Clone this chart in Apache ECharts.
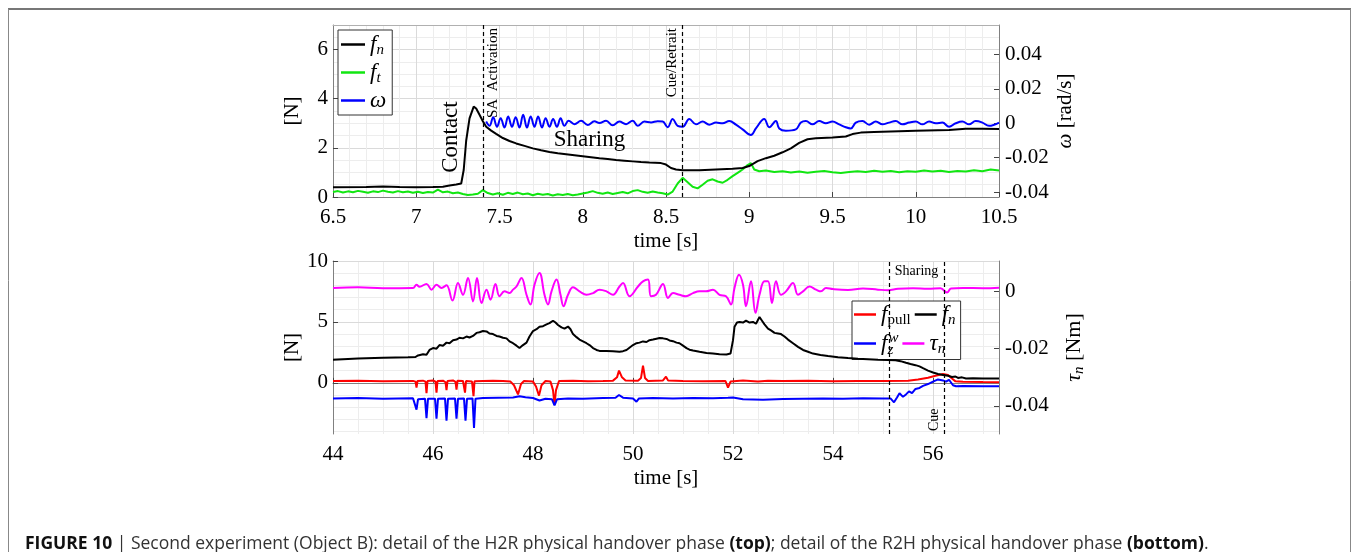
<!DOCTYPE html>
<html>
<head>
<meta charset="utf-8">
<script src="https://cdn.jsdelivr.net/npm/echarts@6.0.0/dist/echarts.min.js"></script>
<style>
html, body { margin: 0; padding: 0; background: #fff; }
#chart { width: 1356px; height: 552px; }
</style>
</head>
<body>
<div id="chart"></div>
<script>
const SERIF = 'Liberation Serif, Times New Roman, serif';
const SANS = 'Open Sans, Liberation Sans, Arial, sans-serif';

// ---- top panel: H2R handover (time [s]) ----
const h2rTimeRange = [6.5, 10.5];
const h2rForceRange = [0, 7];
const h2rForceTicks = [0, 2, 4, 6];
const h2rForceMinor = [0.5, 1, 1.5, 2.5, 3, 3.5, 4.5, 5, 5.5, 6.5];
const h2rOmegaRange = [-0.042857, 0.057143];
const h2rOmegaTicks = [-0.04, -0.02, 0, 0.02, 0.04];

const h2rFn = [
  [6.5,0.40],[6.7,0.41],[6.8,0.43],[6.9,0.41],[7.0,0.40],[7.1,0.41],[7.16,0.42],[7.2,0.47],
  [7.24,0.51],[7.27,0.55],[7.285,1.1],[7.3,2.3],[7.32,3.2],[7.345,3.68],[7.36,3.60],[7.38,3.35],
  [7.4,3.08],[7.42,2.86],[7.45,2.70],[7.48,2.57],[7.52,2.40],[7.56,2.28],[7.6,2.18],[7.65,2.08],
  [7.7,1.98],[7.75,1.90],[7.8,1.83],[7.85,1.78],[7.9,1.74],[7.95,1.70],[8.0,1.66],[8.05,1.62],
  [8.1,1.58],[8.15,1.55],[8.2,1.51],[8.25,1.48],[8.3,1.45],[8.35,1.42],[8.4,1.40],[8.47,1.38],
  [8.5,1.32],[8.53,1.18],[8.56,1.12],[8.6,1.09],[8.7,1.09],[8.8,1.12],[8.9,1.15],[8.96,1.18],
  [9.0,1.26],[9.05,1.46],[9.1,1.58],[9.15,1.68],[9.2,1.82],[9.25,1.98],[9.3,2.20],[9.35,2.35],
  [9.4,2.39],[9.5,2.42],[9.58,2.46],[9.62,2.56],[9.67,2.62],[9.75,2.65],[9.9,2.68],[10.0,2.70],
  [10.2,2.73],[10.3,2.78],[10.4,2.78],[10.5,2.77]
];
const h2rFt = [
  [6.5,0.20],[6.53,0.24],[6.56,0.18],[6.59,0.23],[6.62,0.19],[6.65,0.25],[6.68,0.21],[6.71,0.17],
  [6.74,0.23],[6.77,0.20],[6.8,0.26],[6.83,0.21],[6.86,0.18],[6.89,0.24],[6.92,0.19],[6.95,0.22],
  [6.98,0.17],[7.01,0.21],[7.04,0.16],[7.07,0.20],[7.1,0.18],[7.13,0.30],[7.16,0.19],[7.19,0.22],
  [7.22,0.15],[7.25,0.18],[7.28,0.12],[7.31,0.08],[7.34,0.10],[7.37,0.13],[7.4,0.28],[7.43,0.16],
  [7.46,0.10],[7.49,0.15],[7.52,0.09],[7.55,0.17],[7.58,0.12],[7.61,0.18],[7.64,0.11],[7.67,0.14],
  [7.7,0.07],[7.73,0.13],[7.76,0.09],[7.79,0.12],[7.82,0.06],[7.85,0.11],[7.88,0.08],[7.91,0.12],
  [7.94,0.07],[7.97,0.10],[8.0,0.14],[8.03,0.18],[8.06,0.24],[8.09,0.17],[8.12,0.13],[8.15,0.18],
  [8.18,0.12],[8.21,0.16],[8.24,0.20],[8.27,0.15],[8.3,0.24],[8.33,0.28],[8.36,0.21],[8.39,0.17],
  [8.42,0.22],[8.45,0.18],[8.48,0.15],[8.51,0.10],[8.54,0.22],[8.57,0.55],[8.6,0.78],[8.63,0.60],
  [8.66,0.42],[8.69,0.35],[8.72,0.50],[8.75,0.66],[8.78,0.72],[8.81,0.63],[8.84,0.58],[8.87,0.70],
  [8.9,0.85],[8.93,0.98],[8.96,1.12],[8.99,1.30],[9.01,1.38],[9.03,1.12],[9.06,1.05],[9.1,1.08],
  [9.15,1.02],[9.2,1.05],[9.25,1.00],[9.3,1.04],[9.35,0.99],[9.4,1.03],[9.45,1.06],[9.5,1.01],
  [9.55,0.98],[9.6,1.02],[9.65,1.05],[9.7,1.02],[9.75,1.07],[9.8,1.03],[9.85,1.06],[9.9,1.01],
  [9.95,1.05],[10.0,1.03],[10.05,1.08],[10.1,1.04],[10.15,1.07],[10.2,1.02],[10.25,1.06],[10.3,1.04],
  [10.35,1.09],[10.4,1.05],[10.45,1.12],[10.5,1.08]
];
const h2rOmega = [
  [7.42,0.0010],[7.44,-0.0015],[7.462,0.0035],[7.485,-0.0020],[7.507,0.0030],[7.53,-0.0025],
  [7.552,0.0040],[7.575,-0.0020],[7.597,0.0035],[7.62,-0.0025],[7.642,0.0050],[7.665,-0.0025],
  [7.687,0.0040],[7.71,-0.0020],[7.732,0.0040],[7.755,-0.0025],[7.777,0.0030],[7.8,-0.0020],
  [7.822,0.0025],[7.845,-0.0020],[7.867,0.0030],[7.89,-0.0015],[7.915,0.0015],[7.95,-0.0005],
  [7.99,0.0015],[8.03,-0.0010],[8.07,0.0012],[8.1,0.0002],[8.14,0.0015],[8.18,-0.0012],
  [8.22,0.0010],[8.26,-0.0005],[8.3,0.0015],[8.33,-0.0015],[8.37,0.0010],[8.41,0.0005],
  [8.45,0.0012],[8.48,0.0010],[8.51,-0.0023],[8.54,0.0025],[8.57,-0.0015],[8.6,-0.0020],
  [8.64,0.0025],[8.68,-0.0006],[8.72,0.0010],[8.76,-0.0008],[8.8,0.0004],[8.84,0.0],
  [8.88,0.0013],[8.92,-0.0008],[8.96,-0.0035],[9.01,-0.0068],[9.04,-0.0030],[9.09,0.0025],
  [9.12,-0.0023],[9.16,0.0013],[9.18,-0.0030],[9.22,-0.0043],[9.28,-0.0035],[9.31,0.0004],
  [9.34,0.0013],[9.38,-0.0006],[9.42,0.0013],[9.46,0.0],[9.5,0.0010],[9.54,-0.0006],
  [9.58,-0.0023],[9.61,-0.0030],[9.64,0.0004],[9.68,0.0013],[9.72,-0.0008],[9.76,0.0010],
  [9.8,-0.0006],[9.84,0.0004],[9.88,0.0013],[9.92,-0.0006],[9.96,0.0004],[10.0,0.0010],
  [10.04,-0.0006],[10.08,0.0010],[10.12,0.0],[10.16,0.0004],[10.2,-0.0020],[10.24,0.0],
  [10.28,0.0010],[10.32,-0.0006],[10.36,0.0013],[10.4,0.0004],[10.44,-0.0015],[10.5,0.0004]
];
const h2rEvents = [
  { t: 7.4, text: 'SA  Activation', side: 'right' },
  { t: 8.6, text: 'Cue/Retrait', side: 'left' }
];
const h2rNotes = [
  { t: 7.21, v: 2.44, text: 'Contact', rot: 90 },
  { t: 8.04, v: 2.31, text: 'Sharing', rot: 0 }
];

// ---- bottom panel: R2H handover (time [s]) ----
const r2hTimeRange = [44, 57.32];
const r2hTimeTicks = [44, 46, 48, 50, 52, 54, 56];
const r2hTimeMinor = [44.5,45,45.5,46.5,47,47.5,48.5,49,49.5,50.5,51,51.5,52.5,53,53.5,54.5,55,55.5,56.5,57];
const r2hForceRange = [-4.2, 10];
const r2hForceTicks = [0, 5, 10];
const r2hForceMinor = [-4, -3, -2, -1, 1, 2, 3, 4, 6, 7, 8, 9];
const r2hTauRange = [-0.0498, 0.0106];
const r2hTauTicks = [-0.04, -0.02, 0];

const r2hFpull = [
  [44.0,0.15],[44.5,0.18],[45.0,0.14],[45.6,0.16],[45.65,0.10],[45.67,-0.40],[45.69,0.15],[45.8,0.18],
  [45.85,0.10],[45.87,-0.85],[45.89,0.15],[46.0,0.20],[46.05,0.10],[46.07,-0.80],[46.09,0.15],[46.2,0.18],
  [46.25,0.05],[46.27,-0.60],[46.29,0.15],[46.4,0.20],[46.45,0.08],[46.47,-0.55],[46.49,0.18],[46.6,0.15],
  [46.62,0.05],[46.64,-0.80],[46.66,0.15],[46.78,0.10],[46.81,-1.10],[46.83,0.12],[47.0,0.15],[47.2,0.18],
  [47.4,0.15],[47.55,0.10],[47.62,-0.20],[47.7,-0.95],[47.76,-0.10],[47.82,0.15],[48.0,0.10],[48.06,-0.30],
  [48.12,-1.05],[48.17,-0.20],[48.25,0.15],[48.35,0.10],[48.4,-0.60],[48.43,-1.80],[48.46,-0.60],[48.52,0.15],
  [48.8,0.18],[49.1,0.12],[49.4,0.15],[49.6,0.18],[49.68,0.45],[49.72,1.00],[49.78,0.45],[49.85,0.20],
  [50.1,0.18],[50.16,0.40],[50.2,1.40],[50.24,0.40],[50.3,0.15],[50.6,0.20],[50.66,0.50],[50.7,0.20],
  [51.0,0.15],[51.4,0.12],[51.85,0.15],[51.9,-0.40],[51.95,0.10],[52.2,0.20],[52.5,0.10],[52.7,0.18],
  [53.0,0.15],[53.5,0.18],[54.0,0.12],[54.5,0.15],[55.0,0.15],[55.5,0.18],[55.7,0.28],[55.9,0.42],
  [56.05,0.58],[56.2,0.73],[56.3,0.65],[56.38,0.35],[56.45,0.12],[56.6,0.08],[57.0,0.06],[57.32,0.05]
];
const r2hFn = [
  [44.0,1.90],[44.5,2.00],[45.0,2.05],[45.5,2.10],[45.65,2.12],[45.7,2.25],[45.8,2.35],[45.87,2.30],
  [45.93,2.70],[46.0,2.85],[46.07,2.80],[46.13,3.10],[46.2,3.05],[46.27,3.30],[46.33,3.25],[46.4,3.50],
  [46.47,3.55],[46.53,3.70],[46.6,3.65],[46.67,3.80],[46.73,3.72],[46.8,3.85],[46.87,4.10],[46.93,4.15],
  [47.0,4.25],[47.07,4.22],[47.13,4.05],[47.2,4.00],[47.27,3.85],[47.33,3.80],[47.4,3.70],[47.47,3.65],
  [47.53,3.40],[47.6,3.25],[47.67,3.05],[47.73,2.86],[47.8,3.10],[47.87,3.30],[47.93,3.80],[48.0,4.25],
  [48.07,4.40],[48.13,4.60],[48.2,4.65],[48.27,4.80],[48.33,4.90],[48.4,5.10],[48.45,4.95],[48.5,4.75],
  [48.57,4.55],[48.63,4.45],[48.7,4.62],[48.75,4.40],[48.8,4.00],[48.87,3.75],[48.93,3.55],[49.0,3.40],
  [49.07,3.25],[49.13,3.10],[49.2,2.85],[49.27,2.70],[49.33,2.62],[49.47,2.62],[49.6,2.60],[49.73,2.55],
  [49.8,2.60],[49.87,2.70],[50.0,3.10],[50.07,3.25],[50.13,3.30],[50.2,3.40],[50.27,3.35],[50.33,3.50],
  [50.4,3.55],[50.47,3.62],[50.53,3.68],[50.6,3.65],[50.67,3.60],[50.73,3.48],[50.8,3.42],[50.87,3.30],
  [50.93,3.25],[51.0,3.05],[51.07,2.85],[51.13,2.72],[51.2,2.65],[51.33,2.55],[51.47,2.45],[51.6,2.40],
  [51.73,2.35],[51.87,2.32],[51.95,2.40],[52.0,3.50],[52.03,4.60],[52.08,4.95],[52.13,5.00],[52.2,4.95],
  [52.26,5.10],[52.33,4.95],[52.4,5.00],[52.46,4.85],[52.53,5.40],[52.58,5.10],[52.63,4.80],[52.7,4.45],
  [52.76,4.30],[52.83,4.10],[52.9,4.05],[52.96,4.00],[53.03,3.80],[53.1,3.55],[53.2,3.25],[53.3,2.95],
  [53.4,2.70],[53.5,2.55],[53.6,2.40],[53.75,2.28],[53.9,2.20],[54.1,2.10],[54.3,2.03],[54.5,1.98],
  [54.7,1.94],[54.9,1.90],[55.1,1.88],[55.25,1.85],[55.35,1.78],[55.46,1.65],[55.55,1.55],[55.65,1.45],
  [55.73,1.35],[55.8,1.20],[55.9,1.00],[56.0,0.85],[56.1,0.72],[56.2,0.65],[56.3,0.58],[56.38,0.48],
  [56.45,0.52],[56.5,0.40],[56.58,0.45],[56.66,0.36],[56.8,0.38],[57.0,0.36],[57.32,0.36]
];
const r2hFz = [
  [44.0,-1.28],[44.5,-1.25],[45.0,-1.30],[45.6,-1.27],[45.64,-1.40],[45.67,-2.20],[45.7,-1.35],[45.84,-1.30],
  [45.87,-2.90],[45.9,-1.30],[46.04,-1.30],[46.07,-2.95],[46.1,-1.30],[46.24,-1.28],[46.27,-3.10],[46.3,-1.30],
  [46.44,-1.28],[46.47,-2.95],[46.5,-1.30],[46.62,-1.28],[46.65,-3.10],[46.68,-1.30],[46.79,-1.28],[46.82,-3.70],
  [46.85,-1.30],[47.0,-1.25],[47.3,-1.22],[47.6,-1.20],[47.73,-1.10],[47.85,-1.18],[48.0,-1.25],[48.13,-1.45],
  [48.25,-1.30],[48.38,-1.35],[48.43,-1.85],[48.48,-1.35],[48.7,-1.28],[49.0,-1.30],[49.4,-1.25],[49.65,-1.22],
  [49.72,-1.00],[49.8,-1.22],[50.0,-1.28],[50.07,-1.55],[50.12,-1.28],[50.4,-1.25],[50.8,-1.28],[51.2,-1.25],
  [51.6,-1.27],[51.9,-1.22],[52.0,-1.20],[52.2,-1.35],[52.6,-1.38],[53.0,-1.32],[53.4,-1.30],[53.8,-1.28],
  [54.2,-1.30],[54.6,-1.27],[55.0,-1.28],[55.15,-1.28],[55.22,-1.60],[55.28,-1.20],[55.33,-0.85],[55.4,-1.15],
  [55.46,-0.95],[55.52,-0.70],[55.58,-0.85],[55.65,-0.50],[55.73,-0.42],[55.8,-0.25],[55.9,-0.10],[56.0,0.10],
  [56.1,0.28],[56.2,0.20],[56.26,0.10],[56.32,0.25],[56.4,-0.20],[56.46,-0.28],[56.6,-0.25],[57.0,-0.28],
  [57.32,-0.28]
];
const r2hTau = [
  [44.0,0.0012],[44.5,0.0014],[45.0,0.0011],[45.6,0.0012],[45.67,0.0023],[45.73,0.0016],[45.87,0.0026],
  [45.97,0.0006],[46.07,0.0023],[46.17,0.0012],[46.27,0.0021],[46.39,-0.0032],[46.5,0.0029],[46.6,-0.0012],
  [46.7,0.0047],[46.8,-0.0035],[46.88,0.0047],[46.97,-0.0041],[47.07,0.0006],[47.15,-0.0029],[47.25,0.0026],
  [47.33,-0.0017],[47.43,0.0],[47.53,-0.0006],[47.6,0.0006],[47.67,0.0017],[47.77,0.0047],[47.87,-0.0012],
  [47.95,-0.0046],[48.03,0.0023],[48.13,0.0064],[48.23,-0.0012],[48.3,-0.0046],[48.37,0.0],[48.47,0.0041],
  [48.55,-0.0012],[48.61,-0.0052],[48.7,-0.0012],[48.8,0.0014],[48.93,0.0],[49.07,-0.0012],[49.2,-0.0006],
  [49.33,0.0006],[49.47,0.0],[49.6,-0.0012],[49.73,0.0017],[49.8,0.0029],[49.93,-0.0017],[50.1,0.0017],
  [50.2,0.0035],[50.3,0.0041],[50.36,-0.0017],[50.46,-0.0012],[50.6,0.0026],[50.7,-0.0023],[50.8,-0.0006],
  [50.93,-0.0012],[51.06,-0.0017],[51.2,-0.0006],[51.33,0.0],[51.46,0.0],[51.6,0.0006],[51.73,-0.0012],
  [51.86,-0.0017],[51.96,-0.0046],[52.03,0.0012],[52.12,0.0058],[52.2,0.0023],[52.26,-0.0052],[52.36,0.0035],
  [52.45,-0.0075],[52.53,-0.0012],[52.63,0.0035],[52.7,0.0035],[52.78,-0.0041],[52.86,0.0035],[52.96,-0.0012],
  [53.06,0.0],[53.2,0.0029],[53.3,-0.0012],[53.4,0.0],[53.53,0.0017],[53.66,0.0006],[53.76,0.0],[53.86,0.0012],
  [54.0,0.0008],[54.3,0.0005],[54.6,0.0010],[54.9,0.0006],[55.1,0.0004],[55.3,0.0009],[55.6,0.0011],
  [55.9,0.0009],[56.15,0.0011],[56.28,-0.0004],[56.36,0.0010],[56.6,0.0012],[57.0,0.0011],[57.32,0.0013]
];
const r2hEvents = [
  { t: 55.12, text: '', side: 'left' },
  { t: 56.23, text: 'Cue', side: 'left', atStart: true }
];
const r2hNotes = [
  { t: 55.67, v: 9.15, text: 'Sharing', rot: 0, size: 14 }
];

const chart = echarts.init(document.getElementById('chart'));

const AXIS_COLOR = '#808080';
const GRID_MAJOR = '#dadada';
const GRID_MINOR = '#ededed';

const subRich = {
  it: { fontFamily: SERIF, fontStyle: 'italic', fontSize: 23, color: '#000' },
  sub: { fontFamily: SERIF, fontStyle: 'italic', fontSize: 15, color: '#000', padding: [12, 0, 0, 0] },
  subz: { fontFamily: SERIF, fontStyle: 'italic', fontSize: 15, color: '#000', padding: [13, 0, 0, 0], width: 1 },
  supw: { fontFamily: SERIF, fontStyle: 'italic', fontSize: 15, color: '#000', padding: [0, 0, 11, 0], width: 28 },
  pull: { fontFamily: SERIF, fontSize: 15, color: '#000', padding: [12, 0, 0, 0], width: 29 }
};

const legendText = {
  h2r_fn: '{it|f}{sub|n}',
  h2r_ft: '{it|f}{sub|t}',
  h2r_w: '{it|ω}',
  r2h_fpull: '{it|f}{pull|pull}',
  r2h_fn: '{it|f}{sub|n}',
  r2h_fz: '{it|f}{subz|z}{supw|w}',
  r2h_tau: '{it|τ}{sub|n}'
};

function eventLines(events, fontSize) {
  return {
    symbol: 'none',
    silent: true,
    animation: false,
    lineStyle: { color: '#000', type: [4, 3], width: 1.2 },
    data: events.map(e => ({
      xAxis: e.t,
      label: {
        show: e.text !== '',
        formatter: e.text,
        position: e.atStart
          ? (e.side === 'left' ? 'insideStartTop' : 'insideStartBottom')
          : (e.side === 'left' ? 'insideEndTop' : 'insideEndBottom'),
        distance: 3,
        color: '#000',
        fontFamily: SERIF,
        fontSize: fontSize
      }
    }))
  };
}

function notePoints(notes) {
  return {
    symbol: 'circle',
    symbolSize: 1,
    silent: true,
    animation: false,
    itemStyle: { color: 'rgba(0,0,0,0)' },
    data: notes.map(n => ({
      coord: [n.t, n.v],
      label: {
        show: true,
        position: 'inside',
        formatter: n.text,
        rotate: n.rot,
        color: '#000',
        fontFamily: SERIF,
        fontSize: n.size || 23
      }
    }))
  };
}

function legendItems(names) {
  return names.map(n => ({ name: n, icon: 'rect' }));
}

const tickLabel = { fontFamily: SERIF, fontSize: 21, color: '#000' };

const option = {
  backgroundColor: '#fff',
  animation: false,
  grid: [
    { left: 333, top: 25, width: 666, height: 172 },
    { left: 333, top: 261, width: 666, height: 173 }
  ],
  xAxis: [
    {
      gridIndex: 0, type: 'value', min: h2rTimeRange[0], max: h2rTimeRange[1], interval: 0.5,
      name: 'time [s]', nameLocation: 'middle', nameGap: 34,
      nameTextStyle: { fontFamily: SERIF, fontSize: 21, color: '#000' },
      axisLine: { lineStyle: { color: AXIS_COLOR } },
      axisTick: { inside: true, length: 5, lineStyle: { color: '#444' } },
      axisLabel: Object.assign({ margin: 10 }, tickLabel),
      splitLine: { show: true, lineStyle: { color: GRID_MAJOR } },
      minorTick: { show: false, splitNumber: 5 },
      minorSplitLine: { show: true, lineStyle: { color: GRID_MINOR } }
    },
    {
      gridIndex: 0, type: 'value', position: 'top', min: h2rTimeRange[0], max: h2rTimeRange[1],
      axisLine: { show: true, onZero: false, lineStyle: { color: '#b0b0b0' } },
      axisTick: { show: false }, axisLabel: { show: false }, splitLine: { show: false }
    },
    {
      gridIndex: 1, type: 'value', min: r2hTimeRange[0], max: r2hTimeRange[1],
      name: 'time [s]', nameLocation: 'middle', nameGap: 34,
      nameTextStyle: { fontFamily: SERIF, fontSize: 21, color: '#000' },
      axisLine: { lineStyle: { color: AXIS_COLOR } },
      axisTick: { inside: true, length: 5, lineStyle: { color: '#444' }, customValues: r2hTimeTicks },
      axisLabel: Object.assign({ margin: 10, customValues: r2hTimeTicks }, tickLabel),
      splitLine: { show: true, lineStyle: { color: GRID_MAJOR } }
    },
    {
      gridIndex: 1, type: 'value', position: 'top', min: r2hTimeRange[0], max: r2hTimeRange[1],
      axisLine: { show: true, onZero: false, lineStyle: { color: '#b0b0b0' } },
      axisTick: { show: false, customValues: r2hTimeMinor }, axisLabel: { show: false },
      splitLine: { show: true, lineStyle: { color: GRID_MINOR } }, z: -1
    }
  ],
  yAxis: [
    {
      gridIndex: 0, type: 'value', min: h2rForceRange[0], max: h2rForceRange[1],
      name: '[N]', nameLocation: 'middle', nameGap: 30,
      nameTextStyle: { fontFamily: SERIF, fontSize: 21, color: '#000' },
      axisLine: { show: true, onZero: false, lineStyle: { color: AXIS_COLOR } },
      axisTick: { show: true, inside: true, length: 5, lineStyle: { color: '#444' }, customValues: h2rForceTicks },
      axisLabel: Object.assign({ margin: 5, customValues: h2rForceTicks }, tickLabel),
      splitLine: { show: true, lineStyle: { color: GRID_MAJOR } }
    },
    {
      gridIndex: 0, type: 'value', position: 'right', min: h2rOmegaRange[0], max: h2rOmegaRange[1],
      name: '{i|ω} [rad/s]', nameLocation: 'middle', nameGap: 56,
      nameTextStyle: {
        fontFamily: SERIF, fontSize: 21, color: '#000',
        rich: { i: { fontFamily: SERIF, fontStyle: 'italic', fontSize: 21, color: '#000' } }
      },
      axisLine: { show: true, onZero: false, lineStyle: { color: AXIS_COLOR } },
      axisTick: { show: true, inside: true, length: 5, lineStyle: { color: '#444' }, customValues: h2rOmegaTicks },
      axisLabel: Object.assign({ margin: 6, customValues: h2rOmegaTicks }, tickLabel),
      splitLine: { show: false }
    },
    {
      gridIndex: 0, type: 'value', min: h2rForceRange[0], max: h2rForceRange[1],
      axisLine: { show: false }, axisLabel: { show: false },
      axisTick: { show: false, customValues: h2rForceMinor },
      splitLine: { show: true, lineStyle: { color: GRID_MINOR } }, z: -1
    },
    {
      gridIndex: 1, type: 'value', min: r2hForceRange[0], max: r2hForceRange[1],
      name: '[N]', nameLocation: 'middle', nameGap: 29,
      nameTextStyle: { fontFamily: SERIF, fontSize: 21, color: '#000' },
      axisLine: { show: true, onZero: false, lineStyle: { color: AXIS_COLOR } },
      axisTick: { show: true, inside: true, length: 5, lineStyle: { color: '#444' }, customValues: r2hForceTicks },
      axisLabel: Object.assign({ margin: 5, customValues: r2hForceTicks }, tickLabel),
      splitLine: { show: true, lineStyle: { color: GRID_MAJOR } }
    },
    {
      gridIndex: 1, type: 'value', position: 'right', min: r2hTauRange[0], max: r2hTauRange[1],
      name: '{i|τ}{s|n} [Nm]', nameLocation: 'middle', nameGap: 62,
      nameTextStyle: {
        fontFamily: SERIF, fontSize: 22, color: '#000',
        rich: {
          i: { fontFamily: SERIF, fontStyle: 'italic', fontSize: 22, color: '#000' },
          s: { fontFamily: SERIF, fontStyle: 'italic', fontSize: 15, color: '#000', padding: [11, 0, 0, 0] }
        }
      },
      axisLine: { show: true, onZero: false, lineStyle: { color: AXIS_COLOR } },
      axisTick: { show: true, inside: true, length: 5, lineStyle: { color: '#444' }, customValues: r2hTauTicks },
      axisLabel: Object.assign({ margin: 6, customValues: r2hTauTicks }, tickLabel),
      splitLine: { show: false }
    },
    {
      gridIndex: 1, type: 'value', min: r2hForceRange[0], max: r2hForceRange[1],
      axisLine: { show: false }, axisLabel: { show: false },
      axisTick: { show: false, customValues: r2hForceMinor },
      splitLine: { show: true, lineStyle: { color: GRID_MINOR } }, z: -1
    }
  ],
  legend: [
    {
      data: legendItems(['h2r_fn', 'h2r_ft', 'h2r_w']),
      orient: 'vertical', left: 338, top: 30,
      padding: [3, 6, 3, 3], itemGap: 3, itemWidth: 24, itemHeight: 2.5,
      borderColor: '#333', borderWidth: 1, backgroundColor: '#fff',
      formatter: name => legendText[name],
      textStyle: { rich: subRich }
    },
    {
      data: legendItems(['r2h_fpull', 'r2h_fn', 'r2h_fz', 'r2h_tau']),
      orient: 'horizontal', left: 852, top: 301, width: 116,
      padding: [2, 5, 2, 2], itemGap: 4, itemWidth: 22, itemHeight: 2.5,
      borderColor: '#333', borderWidth: 1, backgroundColor: '#fff',
      formatter: name => legendText[name],
      textStyle: { rich: subRich }
    }
  ],
  series: [
    {
      name: 'h2r_fn', type: 'line', xAxisIndex: 0, yAxisIndex: 0, data: h2rFn,
      showSymbol: false, symbol: 'none', lineStyle: { color: '#000', width: 2 }, itemStyle: { color: '#000' },
      markLine: eventLines(h2rEvents, 15), markPoint: notePoints(h2rNotes), z: 5
    },
    {
      name: 'h2r_ft', type: 'line', xAxisIndex: 0, yAxisIndex: 0, data: h2rFt,
      showSymbol: false, symbol: 'none', lineStyle: { color: '#11e611', width: 2 }, itemStyle: { color: '#11e611' }
    },
    {
      name: 'h2r_w', type: 'line', xAxisIndex: 0, yAxisIndex: 1, data: h2rOmega, smooth: 0.4,
      showSymbol: false, symbol: 'none', lineStyle: { color: '#0000ff', width: 2 }, itemStyle: { color: '#0000ff' }
    },
    {
      name: 'r2h_fpull', type: 'line', xAxisIndex: 2, yAxisIndex: 3, data: r2hFpull,
      showSymbol: false, symbol: 'none', lineStyle: { color: '#ff0000', width: 2 }, itemStyle: { color: '#ff0000' }
    },
    {
      name: 'r2h_fn', type: 'line', xAxisIndex: 2, yAxisIndex: 3, data: r2hFn,
      showSymbol: false, symbol: 'none', lineStyle: { color: '#000', width: 2 }, itemStyle: { color: '#000' },
      markLine: eventLines(r2hEvents, 14), markPoint: notePoints(r2hNotes), z: 5
    },
    {
      name: 'r2h_fz', type: 'line', xAxisIndex: 2, yAxisIndex: 3, data: r2hFz,
      showSymbol: false, symbol: 'none', lineStyle: { color: '#0000ff', width: 2 }, itemStyle: { color: '#0000ff' }
    },
    {
      name: 'r2h_tau', type: 'line', xAxisIndex: 2, yAxisIndex: 4, data: r2hTau, smooth: 0.4,
      showSymbol: false, symbol: 'none', lineStyle: { color: '#ff00ff', width: 2 }, itemStyle: { color: '#ff00ff' }
    }
  ],
  graphic: [
    { type: 'line', shape: { x1: 8, y1: 9, x2: 1351, y2: 9 }, style: { stroke: '#777', lineWidth: 2 }, silent: true },
    { type: 'line', shape: { x1: 8.5, y1: 9, x2: 8.5, y2: 552 }, style: { stroke: '#888', lineWidth: 1 }, silent: true },
    { type: 'line', shape: { x1: 1350.5, y1: 9, x2: 1350.5, y2: 552 }, style: { stroke: '#888', lineWidth: 1 }, silent: true },
    {
      type: 'text', left: 25, top: 535, silent: true,
      style: {
        text: '{b|FIGURE 10} | Second experiment (Object B): detail of the H2R physical handover phase {b|(top)}; detail of the R2H physical handover phase {b|(bottom)}.',
        fontFamily: SANS, fontSize: 17.5, fill: '#333',
        rich: {
          b: { fontFamily: SANS, fontSize: 17.5, fontWeight: 'bold', fill: '#111' }
        }
      }
    }
  ]
};

chart.setOption(option);
</script>
</body>
</html>
